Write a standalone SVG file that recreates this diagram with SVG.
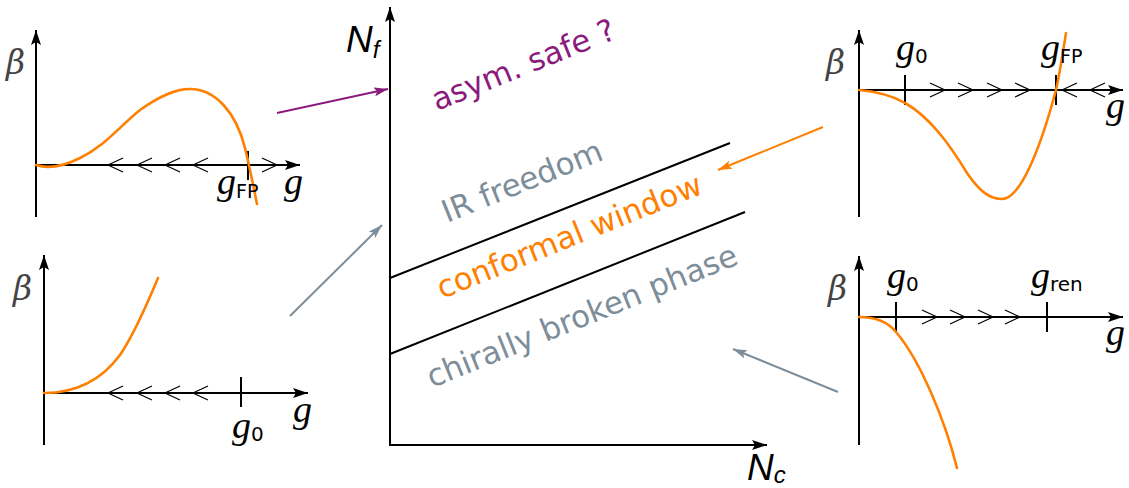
<svg xmlns="http://www.w3.org/2000/svg" width="1129" height="488" viewBox="0 0 1129 488">
<style>
.ax{stroke:#000;stroke-width:2;fill:none}
.tk{stroke:#000;stroke-width:2;fill:none}
.ch{stroke:#000;stroke-width:1.2;fill:none}
.cv{stroke:#ff8000;stroke-width:2.6;fill:none;stroke-linecap:round}
.bd{stroke:#000;stroke-width:2;fill:none}
.mi{font-family:"Liberation Serif","DejaVu Serif",serif;font-style:italic;fill:#000}
.be{font-family:"DejaVu Serif","Liberation Serif",serif;font-style:italic;fill:#444;font-weight:300}
.ss{font-family:"DejaVu Sans","Liberation Sans",sans-serif;fill:#000}
.lab{font-family:"DejaVu Sans","Open Sans",sans-serif;font-size:31px}
.nl{font-family:"Liberation Sans","DejaVu Sans",sans-serif;font-style:italic;fill:#000}
</style>
<defs>
<marker id="ah" viewBox="0 0 15 10" refX="15" refY="5" markerWidth="15" markerHeight="10" markerUnits="userSpaceOnUse" orient="auto"><path d="M0,0 L15,5 L0,10 L3,5 z" fill="#000"/></marker>
<marker id="ahp" viewBox="0 0 14 9" refX="14" refY="4.5" markerWidth="14" markerHeight="9" markerUnits="userSpaceOnUse" orient="auto"><path d="M0,0 L14,4.5 L0,9 L3,4.5 z" fill="#8b1a7d"/></marker>
<marker id="aho" viewBox="0 0 14 9" refX="14" refY="4.5" markerWidth="14" markerHeight="9" markerUnits="userSpaceOnUse" orient="auto"><path d="M0,0 L14,4.5 L0,9 L3,4.5 z" fill="#ff8000"/></marker>
<marker id="ahg" viewBox="0 0 14 9" refX="14" refY="4.5" markerWidth="14" markerHeight="9" markerUnits="userSpaceOnUse" orient="auto"><path d="M0,0 L14,4.5 L0,9 L3,4.5 z" fill="#7d8d99"/></marker>
</defs>

<g id="plot-top-left">
<path class="ax" d="M36,217 V30" marker-end="url(#ah)"/>
<path class="ax" d="M36,165 H300" marker-end="url(#ah)"/>
<path class="ch" d="M123,158 L108,165 L123,172 M152,158 L137,165 L152,172 M180,158 L165,165 L180,172 M208,158 L193,165 L208,172 M262,158 L277,165 L262,172"/>
<path class="tk" d="M248,151 V180"/>
<path class="cv" d="M36,165 C45,168 60,168 80,158 C105,146 120,126 140,110 C160,96 175,89 190,89 C215,89 236,112 245,148 C250,168 254,190 257,204"/>
<text class="be" x="6" y="74" font-size="33">β</text>
<text class="mi" x="217" y="194" font-size="38">g<tspan class="ss" font-style="normal" font-size="19" dy="4">FP</tspan></text>
<text class="mi" x="284" y="194" font-size="38">g</text>
</g>

<g id="plot-bottom-left">
<path class="ax" d="M44,445 V255" marker-end="url(#ah)"/>
<path class="ax" d="M44,393 H308" marker-end="url(#ah)"/>
<path class="ch" d="M123,386 L108,393 L123,400 M152,386 L137,393 L152,400 M180,386 L165,393 L180,400 M208,386 L193,393 L208,400"/>
<path class="tk" d="M241,377 V407"/>
<path class="cv" d="M44,393 C75,393 100,382 120,355 C135,333 148,302 158,278"/>
<text class="be" x="13" y="300" font-size="33">β</text>
<text class="mi" x="232" y="438" font-size="38">g<tspan class="ss" font-style="normal" font-size="20" dy="3">0</tspan></text>
<text class="mi" x="293" y="422" font-size="38">g</text>
</g>

<g id="plot-top-right">
<path class="ax" d="M859,217 V30" marker-end="url(#ah)"/>
<path class="ax" d="M859,90 H1123" marker-end="url(#ah)"/>
<path class="ch" d="M930,83 L945,90 L930,97 M958,83 L973,90 L958,97 M987,83 L1002,90 L987,97 M1015,83 L1030,90 L1015,97 M1077,83 L1062,90 L1077,97 M1105,83 L1090,90 L1105,97"/>
<path class="tk" d="M905,75 V105 M1056,75 V105"/>
<path class="cv" d="M859,90 C880,92 895,97 905,103 C930,117 950,145 967,173 C980,192 990,199 1002,199 C1020,199 1040,150 1056,90 C1060,72 1063,52 1066,33"/>
<text class="be" x="826" y="74" font-size="33">β</text>
<text class="mi" x="896" y="60" font-size="38">g<tspan class="ss" font-style="normal" font-size="20" dy="3">0</tspan></text>
<text class="mi" x="1041" y="60" font-size="38">g<tspan class="ss" font-style="normal" font-size="19" dy="3">FP</tspan></text>
<text class="mi" x="1106" y="118" font-size="38">g</text>
</g>

<g id="plot-bottom-right">
<path class="ax" d="M859,445 V256" marker-end="url(#ah)"/>
<path class="ax" d="M859,317 H1123" marker-end="url(#ah)"/>
<path class="ch" d="M922,310 L937,317 L922,324 M950,310 L965,317 L950,324 M978,310 L993,317 L978,324 M1005,310 L1020,317 L1005,324"/>
<path class="tk" d="M896,302 V332 M1047,302 V332"/>
<path class="cv" d="M859,317 C875,317 888,322 896,332 C920,360 945,420 957,468"/>
<text class="be" x="828" y="300" font-size="33">β</text>
<text class="mi" x="887" y="288" font-size="38">g<tspan class="ss" font-style="normal" font-size="20" dy="3">0</tspan></text>
<text class="mi" x="1031" y="288" font-size="38">g<tspan class="ss" font-style="normal" font-size="20" dy="3">ren</tspan></text>
<text class="mi" x="1106" y="345" font-size="38">g</text>
</g>

<g id="phase-diagram">
<path class="ax" d="M390,445 V7" marker-end="url(#ah)"/>
<path class="ax" d="M389,445 H767" marker-end="url(#ah)"/>
<text class="nl" x="346" y="52" font-size="37">N<tspan font-size="24" dy="6">f</tspan></text>
<text class="nl" x="747" y="480" font-size="37">N<tspan font-size="24" dy="3">c</tspan></text>
<path class="bd" d="M390,278 L730,143"/>
<path class="bd" d="M390,354 L745,212"/>
<text class="lab" fill="#8b1a7d" x="437" y="111" transform="rotate(-22 437 111)">asym. safe ?</text>
<text class="lab" fill="#7d8d99" x="447" y="223" transform="rotate(-22 447 223)">IR freedom</text>
<text class="lab" fill="#ff8000" x="442" y="299" transform="rotate(-22 442 299)">conformal window</text>
<text class="lab" fill="#7d8d99" x="432" y="388" transform="rotate(-22 432 388)">chirally broken phase</text>
</g>

<g id="connectors">
<path d="M277,113 L388,89" stroke="#8b1a7d" stroke-width="2" fill="none" marker-end="url(#ahp)"/>
<path d="M823,127 L718,170" stroke="#ff8000" stroke-width="2" fill="none" marker-end="url(#aho)"/>
<path d="M290,316 L382,225" stroke="#7d8d99" stroke-width="2" fill="none" marker-end="url(#ahg)"/>
<path d="M838,392 L733,349" stroke="#7d8d99" stroke-width="2" fill="none" marker-end="url(#ahg)"/>
</g>
</svg>
